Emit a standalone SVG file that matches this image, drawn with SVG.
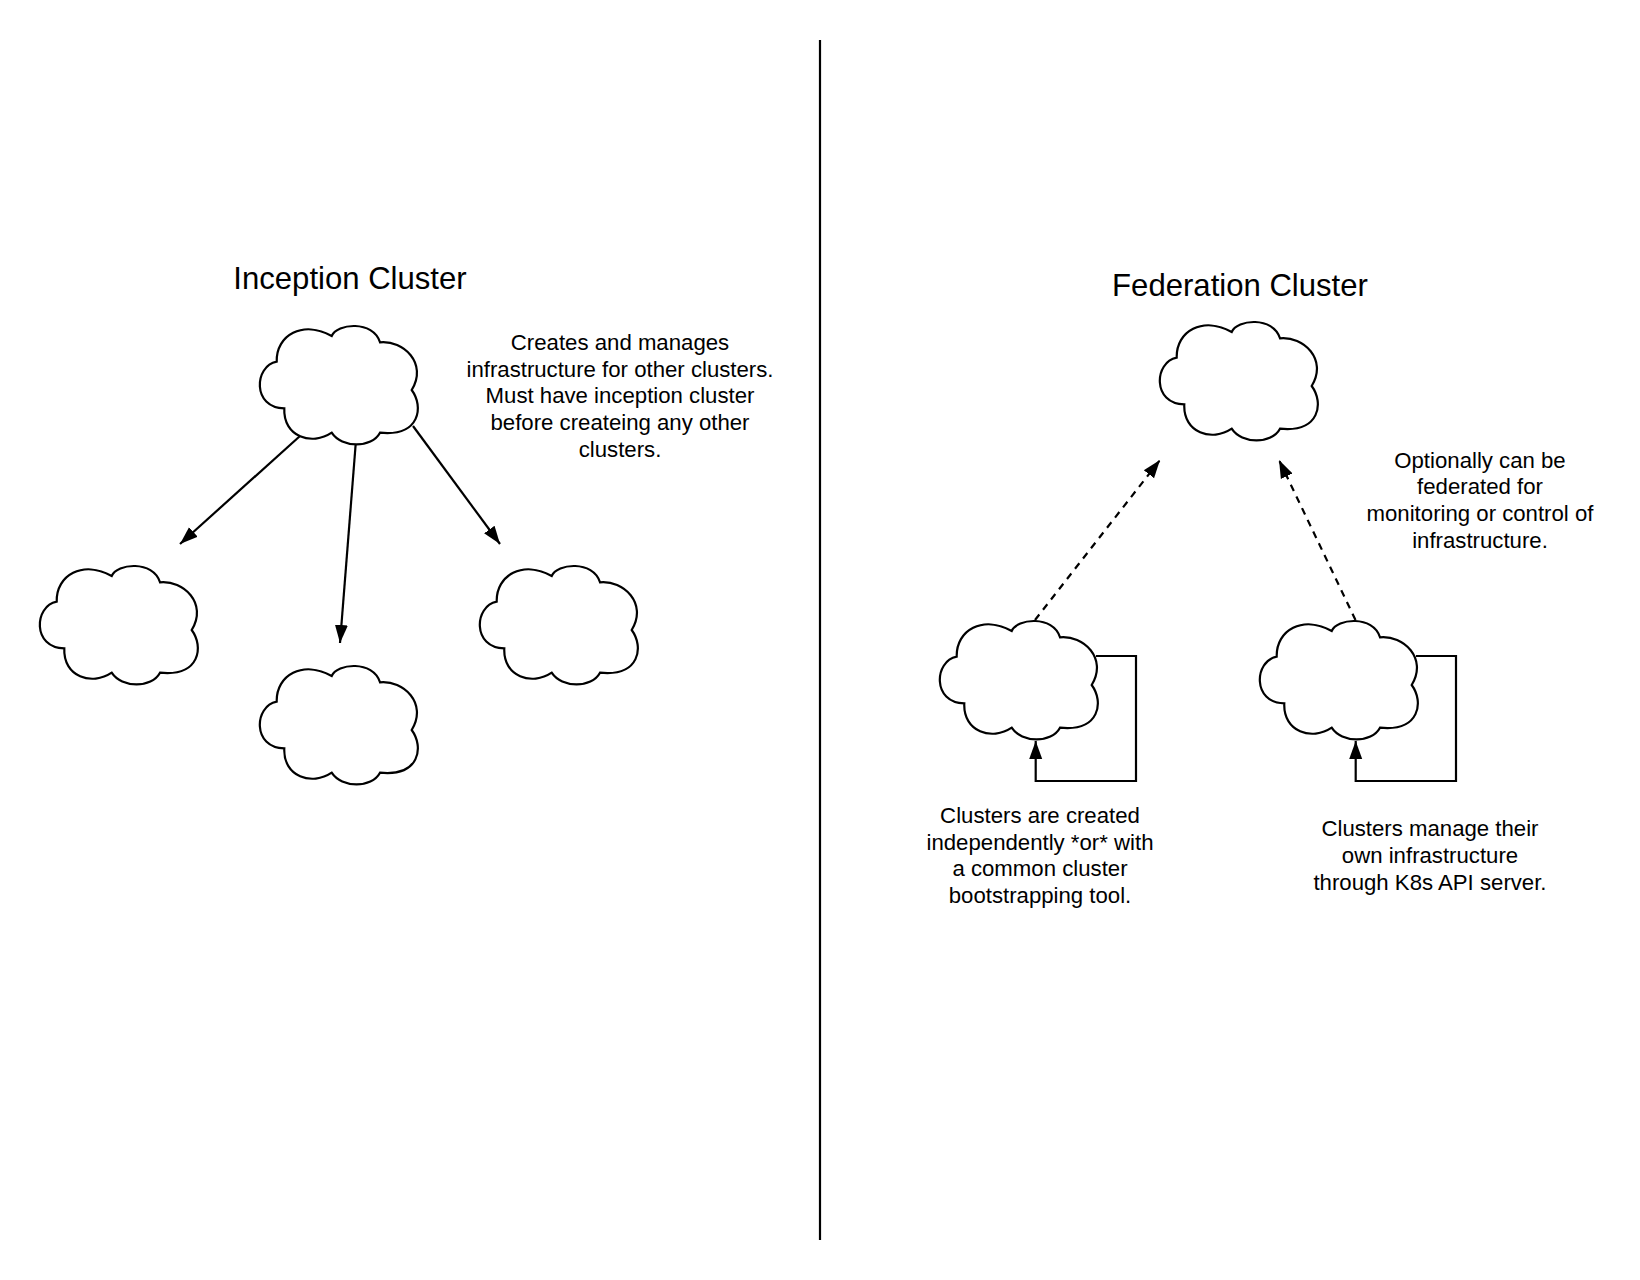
<svg xmlns="http://www.w3.org/2000/svg" xmlns:xlink="http://www.w3.org/1999/xlink" width="1640" height="1280" viewBox="0 0 1640 1280">
<style>
text{font-family:"Liberation Sans",Arial,sans-serif;fill:#000;text-anchor:middle}
.t{font-size:22.2px}.h{font-size:31.1px}
.c{fill:#fff;stroke:#000;stroke-width:2.2}
.l{fill:none;stroke:#000;stroke-width:2.2}
.d{stroke-dasharray:7 6}
</style>
<defs>
<marker id="a" markerUnits="userSpaceOnUse" markerWidth="20" markerHeight="16" refX="18" refY="7" orient="auto" viewBox="0 0 20 14"><path d="M0 0.5L18 7L0 13.5Z" fill="#000"/></marker>
<path id="cloud" d="M276.7 361.7C276 335 303 320 331.7 336C336.7 323.3 373.3 320 380 342.3C403.3 340 428 363.3 411.7 390C424 406.7 420 436.7 380 432.7C371.7 448.3 341.7 448.3 331.7 432.7C312 446 283 437 284.3 408.3C252 408 254 366 276.7 361.7Z"/>
</defs>
<rect width="1640" height="1280" fill="#fff"/>
<g id="connectors">
<path class="l" d="M820 40V1240"/>
<path class="l" d="M300 436L180 544" marker-end="url(#a)"/>
<path class="l" d="M355.6 445L340 643" marker-end="url(#a)"/>
<path class="l" d="M413 426L500 544" marker-end="url(#a)"/>
<path class="l d" d="M1035 620L1160 460" marker-end="url(#a)"/>
<path class="l d" d="M1355.5 620L1279 460" marker-end="url(#a)"/>
<path class="l" d="M1096 656H1136V781H1035.7V741" marker-end="url(#a)"/>
<path class="l" d="M1416 656H1456V781H1355.7V741" marker-end="url(#a)"/>
</g>
<g id="cloud-inception"><use href="#cloud" class="c"/></g>
<g id="cloud-child-left"><use href="#cloud" class="c" transform="translate(-220 240)"/></g>
<g id="cloud-child-middle"><use href="#cloud" class="c" transform="translate(0 340)"/></g>
<g id="cloud-child-right"><use href="#cloud" class="c" transform="translate(220 240)"/></g>
<g id="cloud-federation"><use href="#cloud" class="c" transform="translate(900 -4)"/></g>
<g id="cloud-member-1"><use href="#cloud" class="c" transform="translate(680 295)"/></g>
<g id="cloud-member-2"><use href="#cloud" class="c" transform="translate(1000 295)"/></g>
<g id="labels">
<text class="h" x="350" y="289">Inception Cluster</text>
<text class="h" x="1240" y="296">Federation Cluster</text>
<text class="t" x="620" y="350">Creates and manages</text>
<text class="t" x="620" y="376.7">infrastructure for other clusters.</text>
<text class="t" x="620" y="403.3">Must have inception cluster</text>
<text class="t" x="620" y="430">before createing any other</text>
<text class="t" x="620" y="456.7">clusters.</text>
<text class="t" x="1480" y="467.5">Optionally can be</text>
<text class="t" x="1480" y="494.2">federated for</text>
<text class="t" x="1480" y="520.8">monitoring or control of</text>
<text class="t" x="1480" y="547.5">infrastructure.</text>
<text class="t" x="1040" y="823">Clusters are created</text>
<text class="t" x="1040" y="849.7">independently *or* with</text>
<text class="t" x="1040" y="876.3">a common cluster</text>
<text class="t" x="1040" y="903">bootstrapping tool.</text>
<text class="t" x="1430" y="836">Clusters manage their</text>
<text class="t" x="1430" y="862.7">own infrastructure</text>
<text class="t" x="1430" y="889.7">through K8s API server.</text>
</g>
</svg>
